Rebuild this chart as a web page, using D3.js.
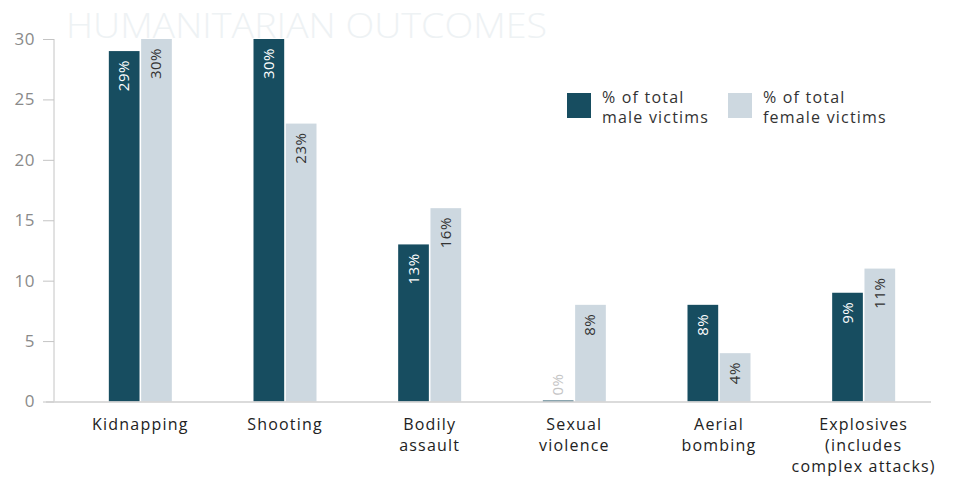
<!DOCTYPE html>
<html>
<head>
<meta charset="utf-8">
<script src="https://cdn.jsdelivr.net/npm/d3@7"></script>
<style>
    body { margin: 0; background: #fff; }
    svg { display: block; font-family: "Open Sans", "Noto Sans", sans-serif; }
</style>
</head>
<body>
<svg id="chart" width="956" height="477"></svg>
<script>
// data
const categories = ["Kidnapping", "Shooting", "Bodily assault", "Sexual violence", "Aerial bombing", "Explosives (includes complex attacks)"];
const categoryLines = [["Kidnapping"], ["Shooting"], ["Bodily", "assault"], ["Sexual", "violence"], ["Aerial", "bombing"], ["Explosives", "(includes", "complex attacks)"]];
const maleValues = [29, 30, 13, 0, 8, 9];
const femaleValues = [30, 23, 16, 8, 4, 11];
const seriesNames = ["male", "female"];
const legendLines = [["% of total", "male victims"], ["% of total", "female victims"]];
const yTicks = [0, 5, 10, 15, 20, 25, 30];

const COLORS = {male: "#174d60", female: "#cdd8e0"};

let svg = d3.select("#chart");

let x = d3.scaleBand().domain(categories).range([68, 936]);
let xInner = d3.scaleBand().domain(seriesNames).range([0, 63]).paddingInner(0.05);
let y = d3.scaleLinear().domain([0, 30]).range([401.5, 39]);

// title (faint, behind everything)
svg.append("text")
    .attr("x", 66)
    .attr("y", 38)
    .attr("font-size", 35)
    .attr("font-weight", 300)
    .attr("fill", "#eef2f4")
    .attr("textLength", 481)
    .attr("lengthAdjust", "spacingAndGlyphs")
    .text("HUMANITARIAN OUTCOMES");

// y axis
let yAxis = svg.append("g")
    .attr("transform", "translate(54,0)")
    .call(d3.axisLeft(y).tickValues(yTicks).tickSize(11).tickPadding(8));
yAxis.select(".domain").attr("stroke", "#c4c4c4").attr("d", "M0," + y(30) + "V" + y(0));
yAxis.selectAll(".tick line").attr("stroke", "#c4c4c4");
yAxis.selectAll(".tick text")
    .attr("fill", "#8a8a8a")
    .attr("font-size", 17)
    .attr("letter-spacing", 0.5)
    .attr("font-family", "Open Sans, sans-serif");

// bars
let rows = categories.map((c, i) => ({cat: c, male: maleValues[i], female: femaleValues[i], lines: categoryLines[i]}));

let groups = svg.selectAll(".cat")
    .data(rows)
    .enter().append("g")
    .attr("class", "cat")
    .attr("transform", d => "translate(" + (x(d.cat) + x.bandwidth() / 2 - 31.5) + ",0)");

seriesNames.forEach(s => {
    groups.append("rect")
        .attr("x", xInner(s))
        .attr("y", d => y(d[s]))
        .attr("width", xInner.bandwidth())
        .attr("height", d => Math.max(0, y(0) - y(d[s])))
        .attr("fill", COLORS[s]);

    groups.append("text")
        .attr("class", "val")
        .attr("transform", d => "translate(" + (xInner(s) + xInner.bandwidth() / 2 + 5) + "," + (y(d[s]) + 9) + ") rotate(-90)")
        .attr("text-anchor", "end")
        .attr("font-size", 15)
        .attr("letter-spacing", 0.5)
        .attr("fill", d => d[s] === 0 ? "#c4c4c4" : (s === "male" ? "#ffffff" : "#333333"))
        .text(d => d[s] + "%");
});

// zero bar tick
groups.filter(d => d.male === 0).append("rect")
    .attr("x", xInner("male"))
    .attr("y", y(0) - 1)
    .attr("width", xInner.bandwidth())
    .attr("height", 1)
    .attr("fill", COLORS.male);

// labels of zero values sit just above the baseline
groups.selectAll("text.val")
    .filter(function () { return d3.select(this).text() === "0%"; })
    .attr("transform", "translate(" + (xInner("male") + xInner.bandwidth() / 2 + 5) + "," + (y(0) - 6) + ") rotate(-90)")
    .attr("text-anchor", "start");

// baseline
svg.append("line")
    .attr("x1", 46).attr("x2", 931)
    .attr("y1", y(0) + 0.5).attr("y2", y(0) + 0.5)
    .attr("stroke", "#cfcfcf")
    .attr("stroke-width", 1.5);

// category labels
groups.each(function (d) {
    let t = d3.select(this).append("text")
        .attr("text-anchor", "middle")
        .attr("font-size", 16)
        .attr("letter-spacing", 1.2)
        .attr("fill", "#222");
    d.lines.forEach((ln, k) => {
        t.append("tspan")
            .attr("x", 31.5)
            .attr("y", 430 + k * 21)
            .text(ln);
    });
});

// legend
let legend = svg.selectAll(".legend")
    .data(seriesNames)
    .enter().append("g")
    .attr("class", "legend")
    .attr("transform", (d, i) => "translate(" + (567 + i * 161) + ",93)");

legend.append("rect")
    .attr("width", 24)
    .attr("height", 25)
    .attr("fill", d => COLORS[d]);

legend.append("text")
    .attr("font-size", 16)
    .attr("letter-spacing", 1.2)
    .attr("fill", "#333")
    .each(function (d, i) {
        legendLines[i].forEach((ln, k) => {
            d3.select(this).append("tspan")
                .attr("x", 35)
                .attr("y", 10 + k * 20)
                .text(ln);
        });
    });
</script>
</body>
</html>
